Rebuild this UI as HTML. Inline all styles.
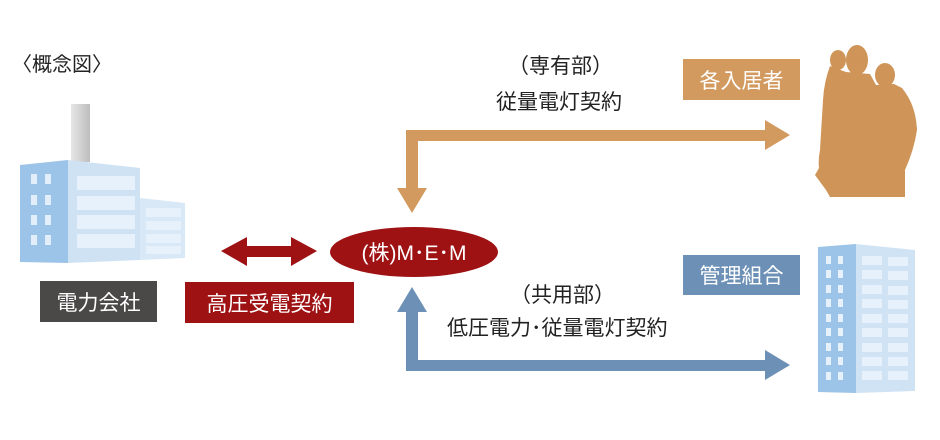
<!DOCTYPE html>
<html><head><meta charset="utf-8"><style>
body{margin:0;width:940px;height:440px;background:#fff;overflow:hidden;font-family:"Liberation Sans","Noto Sans CJK JP",sans-serif;}
.t{position:absolute;color:#222;font-size:21px;white-space:nowrap}
.box{position:absolute;color:#fff;font-size:21px;text-align:center;display:flex;align-items:center;justify-content:center}
</style></head><body>
<svg width="940" height="440" style="position:absolute;left:0;top:0">
<defs><linearGradient id="ch" x1="0" x2="1"><stop offset="0" stop-color="#e6e6e6"/><stop offset="1" stop-color="#bdbdbd"/></linearGradient></defs>
<rect x="71" y="104" width="19" height="58" fill="url(#ch)"/>
<polygon points="20,165 68,160 68,263 20,262" fill="#9cc3e8"/>
<polygon points="68,160 140,168 140,260 68,263" fill="#cfe2f4"/>
<polygon points="140,198 185,203 185,258 140,260" fill="#d8e8f6"/>
<g fill="#e2effb"><rect x="31" y="174" width="6" height="10"/><rect x="45" y="174" width="6" height="10"/><rect x="31" y="195" width="6" height="10"/><rect x="45" y="195" width="6" height="10"/><rect x="31" y="215" width="6" height="10"/><rect x="45" y="215" width="6" height="10"/><rect x="31" y="235" width="6" height="10"/><rect x="45" y="235" width="6" height="10"/></g>
<g fill="#e6f1fb"><rect x="77" y="176" width="58" height="14"/><rect x="77" y="196" width="58" height="14"/><rect x="77" y="215" width="58" height="14"/><rect x="77" y="234" width="58" height="14"/>
<rect x="146" y="208" width="35" height="9"/><rect x="146" y="221" width="35" height="9"/><rect x="146" y="234" width="35" height="9"/><rect x="146" y="246" width="35" height="8"/></g>
<polygon points="818,247 856,244 856,393 818,392" fill="#9cc3e8"/>
<polygon points="856,244 915,250 915,391 856,393" fill="#d0e3f5"/>
<g fill="#e6f1fb">
<rect x="826" y="256" width="5" height="8"/><rect x="838" y="256" width="5" height="8"/><rect x="826" y="270" width="5" height="8"/><rect x="838" y="270" width="5" height="8"/><rect x="826" y="285" width="5" height="8"/><rect x="838" y="285" width="5" height="8"/><rect x="826" y="299" width="5" height="8"/><rect x="838" y="299" width="5" height="8"/><rect x="826" y="314" width="5" height="8"/><rect x="838" y="314" width="5" height="8"/><rect x="826" y="328" width="5" height="8"/><rect x="838" y="328" width="5" height="8"/><rect x="826" y="343" width="5" height="8"/><rect x="838" y="343" width="5" height="8"/><rect x="826" y="357" width="5" height="8"/><rect x="838" y="357" width="5" height="8"/><rect x="826" y="372" width="5" height="8"/><rect x="838" y="372" width="5" height="8"/>
<rect x="862" y="256" width="20" height="9"/><rect x="888" y="257" width="20" height="9"/><rect x="862" y="270" width="20" height="9"/><rect x="888" y="271" width="20" height="9"/><rect x="862" y="285" width="20" height="9"/><rect x="888" y="286" width="20" height="9"/><rect x="862" y="299" width="20" height="9"/><rect x="888" y="300" width="20" height="9"/><rect x="862" y="314" width="20" height="9"/><rect x="888" y="314" width="20" height="9"/><rect x="862" y="328" width="20" height="9"/><rect x="888" y="328" width="20" height="9"/><rect x="862" y="343" width="20" height="9"/><rect x="888" y="343" width="20" height="9"/><rect x="862" y="357" width="20" height="9"/><rect x="888" y="357" width="20" height="9"/><rect x="862" y="371" width="20" height="9"/><rect x="888" y="371" width="20" height="9"/></g>
<g fill="#cf9457">
<ellipse cx="838" cy="60" rx="8" ry="10"/>
<ellipse cx="857" cy="60" rx="11" ry="15"/>
<ellipse cx="885" cy="75" rx="10" ry="12"/>
<path d="M830,66 Q824,82 823,100 L820,150 Q818,160 819,168 L815,175 L826,190 L830,197 L905,197 L905,170 Q914,150 917,130 Q916,105 902,88 L894,84 L876,85 L870,74 L846,72 Z"/>
</g>
<g fill="#d39a5f">
<rect x="406" y="130" width="364" height="11"/>
<rect x="406" y="130" width="12" height="60"/>
<polygon points="397,188 427,188 412,213"/>
<polygon points="765,120 765,150 790,135"/>
</g>
<g fill="#6d90b6">
<polygon points="397,312 427,312 412,287"/>
<rect x="406" y="310" width="12" height="61"/>
<rect x="406" y="360" width="364" height="11"/>
<polygon points="765,350 765,380 790,365"/>
</g>
<g fill="#9e1214">
<polygon points="221,251 247,237 247,246 291,246 291,237 317,251 291,266 291,257 247,257 247,266"/>
<ellipse cx="414" cy="252" rx="84" ry="25"/>
</g>
<text x="414" y="260" fill="#fff" font-size="21" text-anchor="middle" font-family="Liberation Sans,Noto Sans CJK JP,sans-serif">(株)M･E･M</text>
</svg>
<div class="t" style="left:12px;top:48px;font-size:20px">〈概念図〉</div>
<div class="t" style="left:508px;top:50px">（専有部）</div>
<div class="t" style="left:496px;top:86px">従量電灯契約</div>
<div class="t" style="left:510px;top:279px">（共用部）</div>
<div class="t" style="left:447px;top:312px">低圧電力･従量電灯契約</div>
<div class="box" style="left:40px;top:281px;width:117px;height:41px;background:#4b4848">電力会社</div>
<div class="box" style="left:185px;top:282px;width:169px;height:41px;background:#9e1214">高圧受電契約</div>
<div class="box" style="left:683px;top:59px;width:117px;height:41px;background:#d39a5f">各入居者</div>
<div class="box" style="left:683px;top:255px;width:117px;height:40px;background:#6d90b6">管理組合</div>
</body></html>
